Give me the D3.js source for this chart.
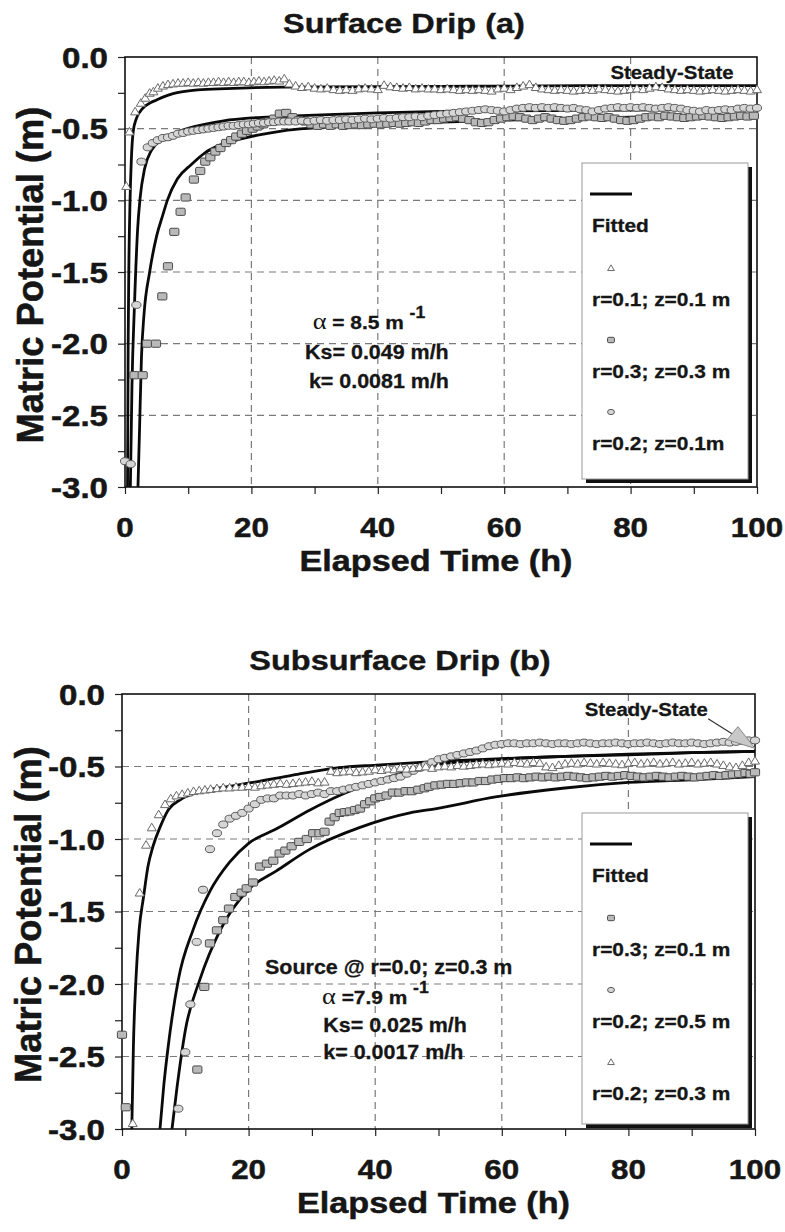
<!DOCTYPE html>
<html><head><meta charset="utf-8">
<script src="https://cdn.jsdelivr.net/npm/d3@7"></script>
<style>body{margin:0;background:#fff}svg{display:block}</style>
</head><body><svg id="c" width="785" height="1232"></svg>
<script>
// ---------- axis / tick data ----------
const xTickValues = [0,20,40,60,80,100];
const xTickLabels = ["0","20","40","60","80","100"];
const xMinorTicks = [0,10,20,30,40,50,60,70,80,90,100];
const yTickValues = [0,-0.5,-1,-1.5,-2,-2.5,-3];
const yTickLabels = ["0.0","-0.5","-1.0","-1.5","-2.0","-2.5","-3.0"];
const yMinorTicks = [0,-0.25,-0.5,-0.75,-1,-1.25,-1.5,-1.75,-2,-2.25,-2.5,-2.75,-3];
const xGrid = [20,40,60,80];
const yGrid = [-0.5,-1,-1.5,-2,-2.5];

// ---------- panel (a) Surface Drip ----------
const surfFitTri = [[0.4,-3],[0.5,-2.0],[0.6,-1.5],[0.8,-1.0],[1.0,-0.72],[1.3,-0.52],[1.8,-0.43],[2.4,-0.38],[3.1,-0.345],[4,-0.32],[5,-0.3],[6,-0.28],[7.6,-0.255],[9.5,-0.24],[11.5,-0.23],[16,-0.22],[25,-0.21],[50,-0.205],[75,-0.2],[100,-0.2]];
const surfFitCirc = [[0.85,-3],[1.1,-2.3],[1.5,-1.73],[2.0,-1.2],[2.4,-0.98],[3.1,-0.78],[4.2,-0.65],[5.8,-0.58],[7.9,-0.53],[11.5,-0.48],[15.6,-0.445],[20,-0.425],[25,-0.415],[30,-0.405],[40,-0.39],[50,-0.38],[60,-0.375],[80,-0.37],[100,-0.365]];
const surfFitSq = [[2.05,-3],[2.3,-2.6],[2.6,-2.1],[3.0,-1.8],[3.9,-1.5],[5,-1.25],[6,-1.1],[6.7,-1.0],[8.3,-0.85],[10.5,-0.75],[12.6,-0.67],[15,-0.615],[18,-0.575],[21,-0.545],[25,-0.515],[30,-0.495],[40,-0.47],[50,-0.455],[60,-0.44],[70,-0.43],[80,-0.42],[90,-0.41],[100,-0.405]];

const surfTri = [[0.2,-0.9],[0.7,-0.52],[1.6,-0.38],[2.5,-0.32],[3.2,-0.285],[3.9,-0.25],[4.5,-0.24],[5.2,-0.215],[6,-0.2],[6.8,-0.19],[7.6,-0.185],[8.4,-0.18],[9.2,-0.18],[10,-0.175],[10.8,-0.18],[11.6,-0.175],[12.4,-0.18],[13.2,-0.175],[14,-0.175],[14.8,-0.17],[15.6,-0.175],[16.4,-0.17],[17.2,-0.175],[18,-0.17],[18.8,-0.17],[19.6,-0.175],[20.4,-0.17],[21.2,-0.165],[22,-0.17],[22.8,-0.165],[23.6,-0.16],[24.4,-0.165],[25.2,-0.15],[26,-0.185],
[27,-0.2],[28,-0.21],[29,-0.205],[30,-0.215],[31,-0.22],[32,-0.215],[33,-0.225],[34,-0.23],[35,-0.225],[36,-0.23],[37,-0.22],[38,-0.215],[39,-0.22],[40,-0.225],[41,-0.195],[42,-0.205],[43,-0.21],[44,-0.215],[45,-0.21],[46,-0.22],[47,-0.215],[48,-0.22],[49,-0.22],[50,-0.225],[51,-0.22],[52,-0.225],[53,-0.23],[54,-0.225],[55,-0.23],[56,-0.225],[57,-0.23],[58,-0.235],[59,-0.22],[60,-0.215],[61,-0.225],[62,-0.21],[63,-0.2],[64,-0.19],[65,-0.21],[66,-0.22],[67,-0.225],[68,-0.23],[69,-0.225],[70,-0.23],[71,-0.235],[72,-0.23],[73,-0.225],[74,-0.23],[75,-0.22],[76,-0.225],[77,-0.23],[78,-0.235],[79,-0.23],[80,-0.225],[81,-0.22],[82,-0.225],[83,-0.215],[84,-0.205],[85,-0.21],[86,-0.22],[87,-0.225],[88,-0.23],[89,-0.225],[90,-0.23],[91,-0.235],[92,-0.23],[93,-0.225],[94,-0.23],[95,-0.235],[96,-0.23],[97,-0.225],[98,-0.23],[99,-0.235],[100,-0.225]];

const surfCirc = [[0,-2.82],[0.9,-2.84],[1.8,-1.73],[2.6,-0.73],[3.6,-0.63],[4.4,-0.6],[5.2,-0.58],[6,-0.565],[6.8,-0.56],[7.6,-0.55],[8.4,-0.535],[9.2,-0.53],[10,-0.52],[10.8,-0.515],[11.6,-0.51],[12.4,-0.505],[13.2,-0.5],[14,-0.495],[14.8,-0.49],[15.6,-0.485],[16.4,-0.48],[17.2,-0.48],[18,-0.475],[18.8,-0.47],[19.6,-0.47],[20.4,-0.465],[21.2,-0.46],[22,-0.46],[22.8,-0.455],[23.6,-0.455],[24.4,-0.45],[25.2,-0.45],
[26,-0.45],[27,-0.45],[28,-0.445],[29,-0.45],[30,-0.445],[31,-0.44],[32,-0.445],[33,-0.44],[34,-0.44],[35,-0.435],[36,-0.44],[37,-0.435],[38,-0.43],[39,-0.435],[40,-0.43],[41,-0.425],[42,-0.43],[43,-0.425],[44,-0.42],[45,-0.42],[46,-0.415],[47,-0.42],[48,-0.41],[49,-0.405],[50,-0.4],[51,-0.395],[52,-0.39],[53,-0.385],[54,-0.38],[55,-0.375],[56,-0.37],[57,-0.365],[58,-0.37],[59,-0.375],[60,-0.38],[61,-0.37],[62,-0.36],[63,-0.355],[64,-0.35],[65,-0.355],[66,-0.35],[67,-0.355],[68,-0.35],[69,-0.355],[70,-0.36],[71,-0.355],[72,-0.365],[73,-0.37],[74,-0.38],[75,-0.37],[76,-0.36],[77,-0.355],[78,-0.35],[79,-0.355],[80,-0.35],[81,-0.355],[82,-0.35],[83,-0.355],[84,-0.36],[85,-0.355],[86,-0.35],[87,-0.355],[88,-0.36],[89,-0.37],[90,-0.375],[91,-0.38],[92,-0.37],[93,-0.375],[94,-0.37],[95,-0.365],[96,-0.37],[97,-0.36],[98,-0.355],[99,-0.36],[100,-0.355]];

const surfSq = [[1.5,-2.22],[2.8,-2.22],[3.5,-2.0],[4.9,-2.0],[5.9,-1.67],[6.8,-1.46],[7.8,-1.22],[8.8,-1.08],[9.6,-0.98],[10.9,-0.855],[11.9,-0.795],[12.7,-0.73],[13.5,-0.7],[14.3,-0.66],[15.1,-0.635],[16,-0.6],[16.8,-0.58],[17.6,-0.555],[18.5,-0.535],[19.3,-0.515],[20.2,-0.5],[21,-0.485],[21.9,-0.47],[22.8,-0.45],[23.6,-0.43],[24.5,-0.395],[25.5,-0.39],[26.5,-0.42],[27.5,-0.44],[28.5,-0.45],
[29.5,-0.47],[30.5,-0.48],[31.5,-0.47],[32.5,-0.48],[33.5,-0.47],[34.5,-0.48],[35.5,-0.475],[36.5,-0.47],[37.5,-0.475],[38.5,-0.47],[39.5,-0.465],[40.5,-0.47],[41.5,-0.465],[42.5,-0.46],[43.5,-0.465],[44.5,-0.46],[45.5,-0.455],[46.5,-0.46],[47.5,-0.45],[48.5,-0.44],[49.5,-0.44],[50.5,-0.43],[51.5,-0.425],[52.5,-0.42],[53.5,-0.43],[54.5,-0.44],[55.5,-0.455],[56.5,-0.46],[57.5,-0.455],[58.5,-0.44],[59.5,-0.43],[60.5,-0.42],[61.5,-0.415],[62.5,-0.42],[63.5,-0.43],[64.5,-0.44],[65.5,-0.43],[66.5,-0.42],[67.5,-0.43],[68.5,-0.44],[69.5,-0.445],[70.5,-0.44],[71.5,-0.43],[72.5,-0.42],[73.5,-0.415],[74.5,-0.42],[75.5,-0.425],[76.5,-0.42],[77.5,-0.43],[78.5,-0.44],[79.5,-0.445],[80.5,-0.44],[81.5,-0.43],[82.5,-0.42],[83.5,-0.415],[84.5,-0.42],[85.5,-0.41],[86.5,-0.415],[87.5,-0.42],[88.5,-0.425],[89.5,-0.42],[90.5,-0.415],[91.5,-0.41],[92.5,-0.415],[93.5,-0.42],[94.5,-0.425],[95.5,-0.42],[96.5,-0.415],[97.5,-0.41],[98.5,-0.415],[99.5,-0.41]];

// ---------- panel (b) Subsurface Drip ----------
const subFitTri = [[1.55,-3],[1.8,-2.43],[2.2,-1.97],[2.7,-1.63],[3.4,-1.4],[4.1,-1.19],[4.9,-1.05],[6.0,-0.92],[7.3,-0.8],[9.2,-0.73],[11.9,-0.68],[16.5,-0.64],[20.7,-0.61],[27,-0.56],[34,-0.51],[40.2,-0.49],[49.7,-0.465],[60,-0.445],[70,-0.43],[80,-0.42],[90,-0.405],[100,-0.395]];
const subFitCirc = [[6,-3],[6.6,-2.7],[7.3,-2.43],[8.9,-1.97],[11.2,-1.63],[13.9,-1.36],[17,-1.16],[20,-1.03],[24.4,-0.93],[29.7,-0.8],[34.9,-0.69],[40.2,-0.6],[45.5,-0.53],[50,-0.485],[60,-0.45],[70,-0.43],[80,-0.415],[90,-0.405],[100,-0.395]];
const subFitSq = [[7.9,-3],[8.7,-2.71],[10,-2.32],[12.3,-1.97],[15.5,-1.63],[20.2,-1.34],[24.4,-1.22],[29.7,-1.07],[37.6,-0.92],[45.5,-0.82],[49.7,-0.79],[59,-0.71],[69.6,-0.65],[80,-0.61],[90.8,-0.59],[100,-0.57]];

const subSq = [[0,-2.35],[0.6,-2.85],[11.9,-2.59],[13,-2.02],[13.9,-1.72],[15,-1.63],[16,-1.56],[16.9,-1.48],[17.9,-1.4],[18.9,-1.37],[19.7,-1.34],[20.7,-1.3],[21.8,-1.19],[22.9,-1.17],[23.9,-1.15],[24.9,-1.1],[25.8,-1.08],[26.8,-1.05],[28,-1.02],[29.2,-1.0],[30.2,-0.96],[31.2,-0.96],[32,-0.95],[32.8,-0.88],[33.6,-0.85],[34.4,-0.82],[35.2,-0.815],[36,-0.81],[36.8,-0.8],[37.6,-0.79],[38.4,-0.76],[39.2,-0.74],[40,-0.72],[40.8,-0.71],[41.8,-0.7],[42.8,-0.68],[43.8,-0.68],[44.8,-0.67],[45.8,-0.67],[46.8,-0.66],[47.8,-0.65],[48.5,-0.64],
[49.5,-0.63],[50.5,-0.625],[51.5,-0.62],[52.5,-0.62],[53.5,-0.615],[54.5,-0.61],[55.5,-0.61],[56.5,-0.6],[57.5,-0.6],[58.5,-0.59],[59.5,-0.585],[60.5,-0.58],[61.5,-0.58],[62.5,-0.575],[63.5,-0.58],[64.5,-0.575],[65.5,-0.57],[66.5,-0.575],[67.5,-0.57],[68.5,-0.575],[69.5,-0.57],[70.5,-0.565],[71.5,-0.57],[72.5,-0.575],[73.5,-0.58],[74.5,-0.575],[75.5,-0.57],[76.5,-0.565],[77.5,-0.57],[78.5,-0.565],[79.5,-0.56],[80.5,-0.565],[81.5,-0.57],[82.5,-0.575],[83.5,-0.57],[84.5,-0.565],[85.5,-0.57],[86.5,-0.575],[87.5,-0.57],[88.5,-0.565],[89.5,-0.57],[90.5,-0.575],[91.5,-0.57],[92.5,-0.565],[93.5,-0.56],[94.5,-0.565],[95.5,-0.56],[96.5,-0.555],[97.5,-0.55],[98.5,-0.545],[99.3,-0.55],[100,-0.54]];

const subCirc = [[8.9,-2.86],[10,-2.47],[10.8,-2.14],[11.8,-1.71],[12.8,-1.35],[13.9,-1.07],[15,-0.96],[16,-0.9],[17,-0.86],[18,-0.84],[19,-0.82],[20,-0.79],[21,-0.76],[22,-0.73],[23,-0.72],[24,-0.72],[25,-0.7],[26,-0.7],[27,-0.7],[28,-0.69],[29,-0.7],[30,-0.69],[31,-0.68],[32,-0.69],[33,-0.67],[34,-0.67],[35,-0.66],[36,-0.65],[37,-0.64],[38,-0.63],[39,-0.62],[40,-0.61],[41,-0.6],[42,-0.59],[43,-0.58],[44,-0.57],[45,-0.55],[46,-0.53],[47,-0.51],[48,-0.49],[49,-0.47],[50,-0.45],[51,-0.44],[52,-0.43],[53,-0.42],[54,-0.41],[55,-0.4],[56,-0.39],[57,-0.375],[58,-0.36],[59,-0.35],[60,-0.345],[61,-0.34],[62,-0.34],[63,-0.345],[64,-0.34],[65,-0.34],[66,-0.335],[67,-0.34],[68,-0.345],[69,-0.34],[70,-0.34],[71,-0.345],[72,-0.34],[73,-0.335],[74,-0.34],[75,-0.345],[76,-0.34],[77,-0.34],[78,-0.335],[79,-0.34],[80,-0.345],[81,-0.34],[82,-0.34],[83,-0.335],[84,-0.34],[85,-0.345],[86,-0.34],[87,-0.335],[88,-0.34],[89,-0.34],[90,-0.335],[91,-0.34],[92,-0.345],[93,-0.34],[94,-0.335],[95,-0.33],[96,-0.335],[97,-0.33],[98,-0.325],[99,-0.32],[100,-0.32]];

const subTri = [[1.7,-2.96],[2.8,-1.37],[3.8,-1.04],[4.7,-0.92],[5.8,-0.83],[6.8,-0.76],[7.7,-0.72],[8.6,-0.7],[9.5,-0.69],[10.4,-0.68],[11.3,-0.67],[12.2,-0.665],[13.1,-0.66],[14,-0.655],[15,-0.65],[16,-0.645],[17,-0.645],[18,-0.64],[19,-0.64],[20,-0.635],[21,-0.64],[22,-0.63],[23,-0.625],[24,-0.62],[25,-0.615],[26,-0.62],[27,-0.615],[28,-0.61],[29,-0.605],[30,-0.6],[31,-0.61],[32,-0.605],[33,-0.53],[34,-0.54],[35,-0.535],[36,-0.53],[37,-0.54],[38,-0.535],[39,-0.53],[40,-0.52],[41,-0.525],[42,-0.515],[43,-0.52],[44,-0.51],[45,-0.515],[46,-0.51],[47,-0.505],[48,-0.5],[49,-0.51],[50,-0.5],[51,-0.495],[52,-0.5],[53,-0.49],[54,-0.495],[55,-0.49],[56,-0.485],[57,-0.48],[58,-0.485],[59,-0.48],[60,-0.475],[61,-0.48],[62,-0.47],[63,-0.475],[64,-0.48],[65,-0.47],[66,-0.475],[67,-0.5],[68,-0.505],[69,-0.49],[70,-0.48],[71,-0.475],[72,-0.48],[73,-0.47],[74,-0.475],[75,-0.48],[76,-0.47],[77,-0.475],[78,-0.48],[79,-0.485],[80,-0.475],[81,-0.47],[82,-0.48],[83,-0.475],[84,-0.47],[85,-0.48],[86,-0.475],[87,-0.47],[88,-0.48],[89,-0.475],[90,-0.47],[91,-0.48],[92,-0.475],[93,-0.47],[94,-0.48],[95,-0.49],[96,-0.5],[97,-0.505],[98,-0.49],[99,-0.47],[100,-0.46]];

// ---------- texts ----------
const titleA = "Surface Drip (a)";
const titleB = "Subsurface Drip (b)";
const xAxisTitle = "Elapsed Time (h)";
const yAxisTitle = "Matric Potential (m)";
const legendA = ["r=0.1; z=0.1 m","r=0.3; z=0.3 m","r=0.2; z=0.1m"];
const legendB = ["r=0.3; z=0.1 m","r=0.2; z=0.5 m","r=0.2; z=0.3 m"];

// ---------- drawing ----------
const FONT = '"Liberation Sans", Arial, Helvetica, sans-serif';
const INK = "#161616";
const svg = d3.select("#c");

function label(g, x, y, s, size, anchor, sx, heavy) {
  const t = g.append("text")
    .attr("transform", `translate(${x},${y}) scale(${sx||1.12},1)`)
    .attr("text-anchor", anchor || "start")
    .attr("font-family", FONT)
    .attr("font-weight", "bold")
    .attr("font-size", size)
    .attr("fill", INK)
    .text(s);
  if (heavy) t.attr("stroke", INK).attr("stroke-width", heavy);
  return t;
}

function drawMarker(g, shape, cx, cy, scale) {
  const k = scale || 1;
  if (shape === "tri") {
    g.append("path")
      .attr("d", `M${cx},${cy-4.2*k}L${cx+4.5*k},${cy+3.4*k}L${cx-4.5*k},${cy+3.4*k}Z`)
      .attr("fill", "#fff").attr("stroke", "#6a6a6a").attr("stroke-width", 1);
  } else if (shape === "sq") {
    g.append("rect")
      .attr("x", cx-4.6*k).attr("y", cy-3.6*k).attr("width", 9.2*k).attr("height", 7.2*k).attr("rx", 1.3)
      .attr("fill", "#b9b9b9").attr("stroke", "#4a4a4a").attr("stroke-width", 1);
  } else {
    g.append("ellipse")
      .attr("cx", cx).attr("cy", cy).attr("rx", 4.6*k).attr("ry", 3.5*k)
      .attr("fill", "#d6d6d6").attr("stroke", "#5a5a5a").attr("stroke-width", 1);
  }
}

function drawPanel(cfg) {
  const x = d3.scaleLinear().domain([0,100]).range([cfg.left, cfg.right]);
  const y = d3.scaleLinear().domain([0,-3]).range([cfg.top, cfg.bottom]);
  const g = svg.append("g");
  const clipId = "clip" + cfg.id;
  svg.append("clipPath").attr("id", clipId).append("rect")
    .attr("x", cfg.left).attr("y", cfg.top).attr("width", cfg.right-cfg.left).attr("height", cfg.bottom-cfg.top);

  // grid
  const grid = g.append("g").attr("stroke", "#7a7a7a").attr("stroke-width", 1.2).attr("stroke-dasharray", "7,5");
  grid.selectAll(".gx").data(xGrid).join("line")
    .attr("x1", d => x(d)).attr("x2", d => x(d)).attr("y1", cfg.top).attr("y2", cfg.bottom);
  grid.selectAll(".gy").data(yGrid).join("line")
    .attr("x1", cfg.left).attr("x2", cfg.right).attr("y1", d => y(d)).attr("y2", d => y(d));

  // axes ticks
  const ay = d3.axisLeft(y).tickValues(yMinorTicks).tickSize(7).tickFormat("");
  const ax = d3.axisBottom(x).tickValues(xMinorTicks).tickSize(7).tickFormat("");
  const gy = g.append("g").attr("transform", `translate(${cfg.left},0)`).call(ay);
  const gx = g.append("g").attr("transform", `translate(0,${cfg.bottom})`).call(ax);
  [gy, gx].forEach(a => { a.select(".domain").remove(); a.selectAll("line").attr("stroke", "#222").attr("stroke-width", 1.2); });

  // tick labels
  yTickValues.forEach((v, i) => label(g, cfg.left - 17, y(v) + 10.5, yTickLabels[i], 29, "end", 1.14, 0.5));
  xTickValues.forEach((v, i) => label(g, x(v), cfg.bottom + cfg.xLabOff, xTickLabels[i], 28, "middle", 1.12, 0.5));

  // axis titles
  label(g, (cfg.left+cfg.right)/2 - 5, cfg.bottom + cfg.xTitleOff, xAxisTitle, 30, "middle", 1.14, 0.5);
  g.append("text")
    .attr("transform", `translate(${cfg.yTitleX},${(cfg.top+cfg.bottom)/2 + 3}) rotate(-90) scale(1.1,1.12)`)
    .attr("text-anchor", "middle").attr("font-family", FONT).attr("font-weight", "bold")
    .attr("font-size", 33).attr("fill", INK).attr("stroke", INK).attr("stroke-width", 0.5).text(yAxisTitle);

  // title
  label(g, cfg.titleX, cfg.top - cfg.titleOff, cfg.title, 28, "middle", 1.16, 0.4);

  // fitted lines (clipped to the plot area)
  const pc = g.append("g").attr("clip-path", `url(#${clipId})`);
  const line = d3.line().x(d => x(d[0])).y(d => y(d[1])).curve(d3.curveMonotoneX);
  cfg.fits.forEach(f => {
    pc.append("path").attr("d", line(f)).attr("fill", "none").attr("stroke", "#0a0a0a").attr("stroke-width", 2.8);
  });

  // frame
  g.append("rect").attr("x", cfg.left).attr("y", cfg.top).attr("width", cfg.right-cfg.left).attr("height", cfg.bottom-cfg.top)
    .attr("fill", "none").attr("stroke", "#111").attr("stroke-width", 1.6);

  // measured points (drawn over the frame, like the original)
  const mk = g.append("g");
  cfg.series.forEach(s => {
    s.data.forEach(d => drawMarker(mk, s.shape, x(d[0]), y(d[1])));
  });

  // legend
  const L = cfg.legend;
  g.append("rect").attr("x", L.x0+4).attr("y", L.y0+4).attr("width", L.x1-L.x0).attr("height", L.y1-L.y0).attr("fill", "#111");
  g.append("rect").attr("x", L.x0).attr("y", L.y0).attr("width", L.x1-L.x0).attr("height", L.y1-L.y0)
    .attr("fill", "#fff").attr("stroke", "#999").attr("stroke-width", 1);
  g.append("line").attr("x1", L.x0+8).attr("x2", L.x0+50).attr("y1", L.y0+31).attr("y2", L.y0+31)
    .attr("stroke", "#0a0a0a").attr("stroke-width", 2.8);
  label(g, L.x0+10, L.y0+69, "Fitted", 19, "start", 1.1, 0.3);
  L.items.forEach((it, i) => {
    const yy = L.y0 + 105 + i*72;
    drawMarker(g, it.shape, L.x0+29, yy, 0.75);
    label(g, L.x0+10, yy + 38, it.text, 19, "start", 1.1, 0.3);
  });

  // annotations
  cfg.notes(g, x, y);
}

function alphaLine(g, px, py, body) {
  const t = g.append("text").attr("transform", `translate(${px},${py}) scale(1.1,1)`)
    .attr("font-family", FONT).attr("font-weight", "bold").attr("font-size", 19).attr("fill", INK)
    .attr("stroke", INK).attr("stroke-width", 0.3);
  t.append("tspan").attr("font-family", '"Liberation Serif", "DejaVu Serif", serif').attr("font-weight", "normal")
    .attr("stroke-width", 0).attr("font-size", 24).text("α");
  t.append("tspan").text(body);
  t.append("tspan").attr("dy", -11).attr("font-size", 16).text("-1");
}

drawPanel({
  id: "a", left: 125, right: 757, top: 57, bottom: 487,
  title: titleA, titleX: 404, titleOff: 24,
  xLabOff: 50, xTitleOff: 84, yTitleX: 43,
  fits: [surfFitTri, surfFitCirc, surfFitSq],
  series: [{data: surfSq, shape: "sq"}, {data: surfCirc, shape: "circ"}, {data: surfTri, shape: "tri"}],
  legend: {x0: 582, x1: 748, y0: 163, y1: 479,
    items: [{shape: "tri", text: legendA[0]}, {shape: "sq", text: legendA[1]}, {shape: "circ", text: legendA[2]}]},
  notes: (g, x, y) => {
    label(g, x(76.8), y(-0.155), "Steady-State", 18.5, "start", 1.1, 0.3);
    alphaLine(g, x(29.7), y(-1.90), " = 8.5 m ");
    label(g, x(28.5), y(-2.11), "Ks= 0.049 m/h", 19.5, "start", 1.1, 0.3);
    label(g, x(29.1), y(-2.31), "k= 0.0081 m/h", 19.5, "start", 1.1, 0.3);
  }
});

drawPanel({
  id: "b", left: 122, right: 755, top: 694, bottom: 1129,
  title: titleB, titleX: 400, titleOff: 24,
  xLabOff: 50, xTitleOff: 84, yTitleX: 41,
  fits: [subFitTri, subFitCirc, subFitSq],
  series: [{data: subSq, shape: "sq"}, {data: subCirc, shape: "circ"}, {data: subTri, shape: "tri"}],
  legend: {x0: 582, x1: 748, y0: 813, y1: 1124,
    items: [{shape: "sq", text: legendB[0]}, {shape: "circ", text: legendB[1]}, {shape: "tri", text: legendB[2]}]},
  notes: (g, x, y) => {
    label(g, x(73.1), y(-0.15), "Steady-State", 18.5, "start", 1.1, 0.3);
    g.append("line").attr("x1", x(92.6)).attr("y1", y(-0.17)).attr("x2", x(99.5)).attr("y2", y(-0.36))
      .attr("stroke", "#333").attr("stroke-width", 1.2);
    g.append("path")
      .attr("d", `M${x(95.6)},${y(-0.315)}L${x(97.3)},${y(-0.225)}L${x(100)},${y(-0.375)}Z`)
      .attr("fill", "#c8c8c8").attr("stroke", "#888").attr("stroke-width", 1);
    label(g, x(22.6), y(-1.93), "Source @ r=0.0; z=0.3 m", 19.5, "start", 1.1, 0.3);
    alphaLine(g, x(31.6), y(-2.14), " =7.9 m ");
    label(g, x(31.8), y(-2.33), "Ks= 0.025 m/h", 19.5, "start", 1.1, 0.3);
    label(g, x(31.8), y(-2.52), "k= 0.0017 m/h", 19.5, "start", 1.1, 0.3);
  }
});
</script>
</body></html>
